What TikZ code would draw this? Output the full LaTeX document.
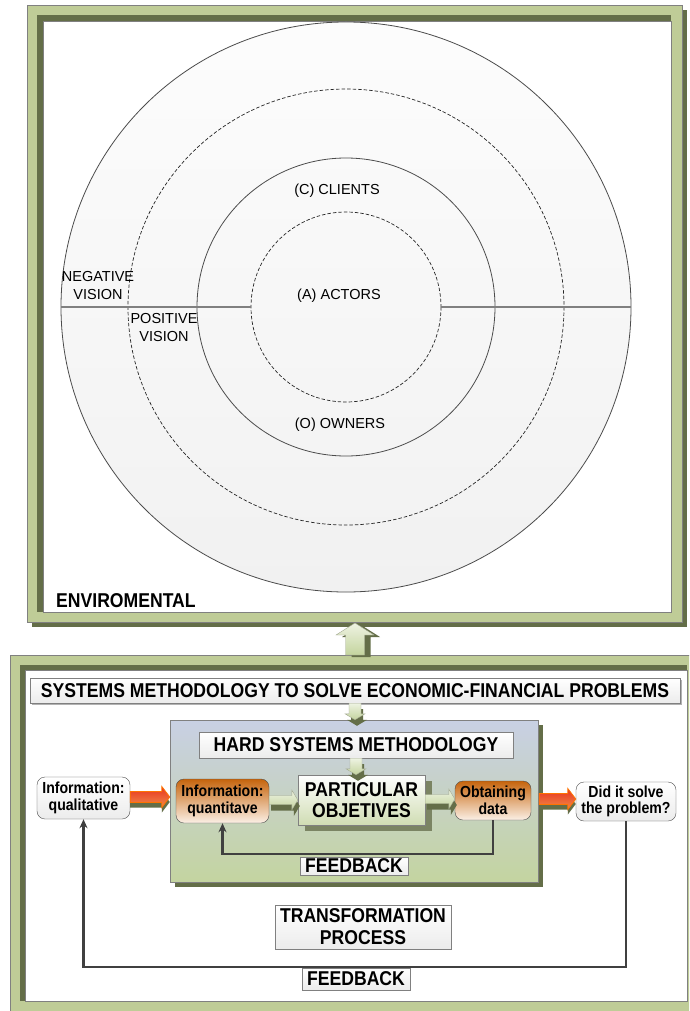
\documentclass[tikz,border=0pt]{standalone}
\usepackage{fontspec}
\setmainfont{Liberation Sans}
\newfontfamily\condensed[FakeStretch=0.88]{Liberation Sans}
\usetikzlibrary{shadows,calc,arrows.meta,positioning}

\definecolor{framegreen}{HTML}{BFCC97}
\definecolor{framedark}{HTML}{646E48}
\definecolor{boxblue}{HTML}{C8D0E4}
\definecolor{boxgreen}{HTML}{C4D4A0}
\definecolor{arrlight}{HTML}{EEF3E2}
\definecolor{arrgreen}{HTML}{C4D49E}
\definecolor{orangetop}{HTML}{C6640C}
\definecolor{orangebot}{HTML}{FBF0E6}
\definecolor{redtop}{HTML}{E8351E}
\definecolor{redbot}{HTML}{F08A4A}
\definecolor{lineclr}{HTML}{404040}

% block arrow pointing right: style, tail, tip, half shaft, half head, head length
\newcommand{\harrow}[6]{%
  \path[#1] let \p1=#2, \p2=#3 in
    (\x1,{\y1+#4}) -- ({\x2-#6},{\y1+#4}) -- ({\x2-#6},{\y1+#5}) -- (\x2,\y1)
    -- ({\x2-#6},{\y1-#5}) -- ({\x2-#6},{\y1-#4}) -- (\x1,{\y1-#4}) -- cycle;}
% block arrow up or down: style, tail, tip, half shaft, half head, head length (negative = down)
\newcommand{\varrow}[6]{%
  \path[#1] let \p1=#2, \p2=#3 in
    ({\x1-#4},\y1) -- ({\x1-#4},{\y2-(#6)}) -- ({\x1-#5},{\y2-(#6)}) -- (\x1,\y2)
    -- ({\x1+#5},{\y2-(#6)}) -- ({\x1+#4},{\y2-(#6)}) -- ({\x1+#4},\y1) -- cycle;}

\tikzset{
  ring/.style={draw=black!70, line width=0.8pt},
  dashring/.style={draw=black!85, line width=0.7pt, dash pattern=on 3.5pt off 2pt},
  divider/.style={draw=gray, line width=1.5pt},
  circtxt/.style={font=\fontsize{14.5}{18}\selectfont, align=center, inner sep=0pt},
  headtxt/.style={font=\condensed\fontsize{20}{22}\selectfont\bfseries, align=center},
  titlebox/.style={headtxt, draw=gray, top color=white, bottom color=gray!15, inner sep=0pt},
  infobox/.style={draw=gray!60!black, rounded corners=8pt, top color=white, bottom color=gray!15,
    font=\condensed\fontsize{16}{16.5}\selectfont\bfseries, align=center, inner sep=0pt},
  orangebox/.style={infobox, top color=orangetop, bottom color=orangebot},
  blockarr/.style={draw=framedark!60, line width=0.4pt, top color=arrlight, bottom color=arrgreen,
    preaction={fill=framedark, transform canvas={xshift=2pt, yshift=-6pt}}},
  linkarr/.style={draw=framedark!60, line width=0.4pt, top color=arrlight, bottom color=arrgreen,
    preaction={fill=framedark, transform canvas={xshift=6pt, yshift=-2pt}}},
  redarr/.style={draw=orange!90!red, line width=0.8pt, top color=redtop, bottom color=redbot,
    preaction={fill=framedark, transform canvas={yshift=-5pt}}},
  fbline/.style={draw=lineclr, line width=2.2pt, -{Stealth[length=9pt,width=8pt]}},
}

\begin{document}
\begin{tikzpicture}[x=1pt,y=-1pt]
  \useasboundingbox (0,0) rectangle (689,1011);
  \clip (0,0) rectangle (689,1011);

  % top frame
  \fill[framedark] (32,10) rectangle (687,627);
  \filldraw[fill=framegreen, draw=gray] (27,5) rectangle (682,622);
  \fill[framedark] (37,15) rectangle (671,612);
  \filldraw[fill=white, draw=gray] (43,21) rectangle (671,612);

  % bottom frame
  \filldraw[fill=framegreen, draw=gray] (10,655) rectangle (700,1030);
  \fill[framedark] (20,665) rectangle (687,1001);
  \filldraw[fill=white, draw=gray] (25,670) rectangle (687,1001);

  % circles
  \coordinate (c) at (346,307);
  \shade[top color=gray!2, bottom color=gray!11] (c) circle (285);
  \draw[ring] (c) circle (285);
  \draw[dashring] (c) circle (218);
  \draw[ring] (c) circle (149);
  \draw[dashring] (c) circle (95);
  \draw[divider] (61,307) -- (251,307) (441,307) -- (631,307);

  \node[circtxt] (clients) at (337,191) {(C) CLIENTS};
  \node[circtxt] (actors) at (339,296) {(A) ACTORS};
  \node[circtxt] (owners) at (340,425) {(O) OWNERS};
  \node[circtxt] (negvis) at (98,286) {NEGATIVE\\VISION};
  \node[circtxt] (posvis) at (164,328) {POSITIVE\\VISION};
  \node[headtxt, anchor=west, inner sep=0pt] (env) at (56,601) {ENVIROMENTAL};

  % link between frames
  \coordinate (envbase) at (355,623);
  \coordinate (procbase) at (355,655);
  \varrow{linkarr}{(procbase)}{(envbase)}{9.5pt}{19pt}{12pt}

  % bottom part
  \node[titlebox, minimum width=650pt, minimum height=25pt,
        drop shadow={shadow xshift=1.5pt, shadow yshift=-1.5pt, fill=gray, opacity=.6}]
        (systems) at (355,690.5) {SYSTEMS METHODOLOGY TO SOLVE ECONOMIC-FINANCIAL PROBLEMS};

  \node[draw=gray, top color=boxblue, bottom color=boxgreen, minimum width=368pt, minimum height=162pt,
        inner sep=0pt, drop shadow={shadow xshift=5pt, shadow yshift=-5pt, fill=framedark, opacity=1}]
        (hsm) at (354,801) {};

  \node[titlebox, minimum width=314pt, minimum height=26pt] (hard) at (356,745) {HARD SYSTEMS METHODOLOGY};

  \node[titlebox, minimum width=127pt, minimum height=50pt, bottom color=boxgreen!80,
        font=\condensed\fontsize{20}{20.5}\selectfont\bfseries,
        drop shadow={shadow xshift=7pt, shadow yshift=-6pt, fill=framedark!85, opacity=1}]
        (part) at (361.5,800) {PARTICULAR\\OBJETIVES};

  \node[orangebox, minimum width=93pt, minimum height=44pt] (quant) at (222.5,801) {Information:\\quantitave};
  \node[orangebox, minimum width=76pt, minimum height=39pt] (obtain) at (493,800.5) {Obtaining\\data};
  \node[infobox, minimum width=93pt, minimum height=42pt] (qual) at (83.5,798) {Information:\\qualitative};
  \node[infobox, minimum width=100pt, minimum height=39pt] (did) at (626,801.5) {Did it solve\\the problem?};

  \node[titlebox, minimum width=108pt, minimum height=18pt] (fbin) at (354,866) {FEEDBACK};
  \node[titlebox, minimum width=176pt, minimum height=44pt] (trans) at (363,927) {TRANSFORMATION\\PROCESS};

  % block arrows
  \varrow{blockarr}{(systems.south)}{(hsm.north)}{6pt}{10pt}{-6pt}
  \varrow{blockarr}{(hard.south)}{(part.north)}{6pt}{10pt}{-6pt}
  \harrow{blockarr}{($(quant.east)+(0,-1)$)}{($(part.west)+(0,-1)$)}{4.5pt}{10pt}{6pt}
  \harrow{blockarr}{($(part.east)+(0,-1)$)}{(obtain.west)}{4.5pt}{10pt}{6pt}
  \harrow{redarr}{($(qual.east)+(0,-1)$)}{($(hsm.west)+(0,-4)$)}{5.5pt}{10.5pt}{8pt}
  \harrow{redarr}{($(hsm.east)+(1,-2)$)}{($(did.west)+(0,-1.5)$)}{5.5pt}{10.5pt}{8pt}

  % feedback loops
  \draw[fbline] (obtain.south) -- ++(0,34) -| (quant.south);
  \draw[fbline] (did.south) -- ++(0,146) -| (qual.south);
  \node[titlebox, minimum width=108pt, minimum height=22pt] (fbout) at (356,979) {FEEDBACK};
\end{tikzpicture}
\end{document}
